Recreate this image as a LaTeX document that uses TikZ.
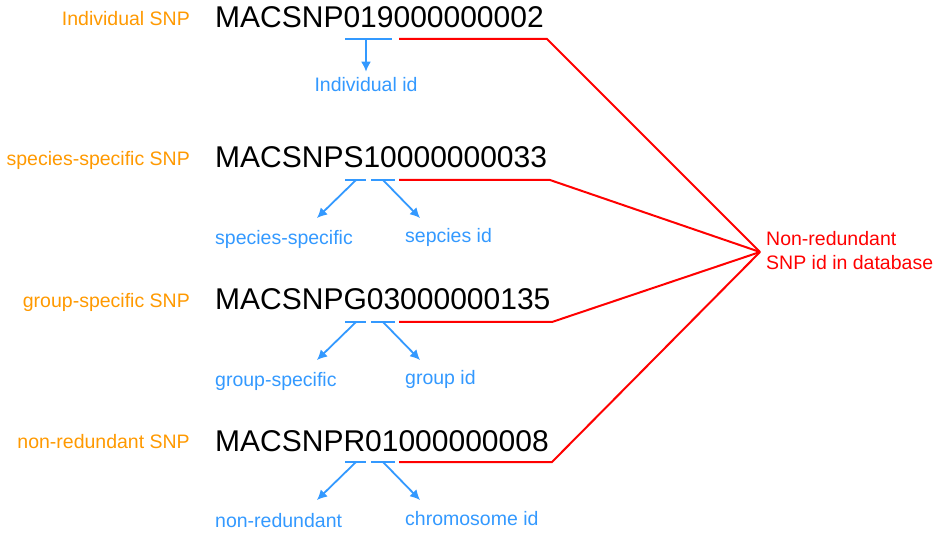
\documentclass[tikz,border=0pt]{standalone}
\usepackage{fontspec}
\setmainfont{Liberation Sans}
\usepackage{tikz}
\usetikzlibrary{arrows.meta,calc,positioning}
\tikzset{>={Latex[length=10pt,width=10pt]}}
\definecolor{kindorange}{RGB}{255,153,0}
\definecolor{partblue}{RGB}{51,153,255}
\definecolor{linkred}{RGB}{255,0,0}
\tikzset{
  snpid/.style={font=\fontsize{30}{36}\selectfont, inner sep=0pt},
  kind/.style={text=kindorange, font=\fontsize{19.5}{24}\selectfont, inner sep=0pt},
  part/.style={text=partblue, font=\fontsize{19.5}{24}\selectfont, inner sep=0pt},
  dbtext/.style={text=linkred, font=\fontsize{19.5}{24}\selectfont, inner sep=0pt, align=left},
  seg/.style={draw=partblue, line width=2pt},
  pointer/.style={->, draw=partblue, line width=1.8pt},
  link/.style={draw=linkred, line width=2pt}
}

\begin{document}
\begin{tikzpicture}[x=1pt,y=-1pt]
\useasboundingbox (0,0) rectangle (940,534);

% identifiers and their kinds
\node[snpid, anchor=base west] (id1) at (215,28) {MACSNP019000000002};
\node[snpid, anchor=base west] (id2) at (215,168) {MACSNPS10000000033};
\node[snpid, anchor=base west] (id3) at (215,310) {MACSNPG03000000135};
\node[snpid, anchor=base west] (id4) at (215,451) {MACSNPR01000000008};

\node[kind, anchor=base east] (k1) at (190,26) {Individual SNP};
\node[kind, anchor=base east] (k2) at (190,166) {species-specific SNP};
\node[kind, anchor=base east] (k3) at (190,308) {group-specific SNP};
\node[kind, anchor=base east] (k4) at (190,449) {non-redundant SNP};

% individual SNP: one field
\draw[seg] (345,39) -- (392,39);
\coordinate (s1) at (366,39);
\node[part, anchor=base] (p1) at (366,92) {Individual id};
\draw[pointer, shorten >=6pt] (s1) -- (p1);

% the other kinds: two fields
\foreach \n/\y/\l/\r in {2/180/species-specific/sepcies id,
                         3/322/group-specific/group id,
                         4/462/non-redundant/chromosome id}
{
  \draw[seg] (345,\y) -- (366,\y);
  \draw[seg] (371,\y) -- (395,\y);
  \coordinate (sa\n) at (356,\y);
  \coordinate (sb\n) at (383,\y);
  \coordinate (ta\n) at (317,\y+38);
  \coordinate (tb\n) at (420,\y+38);
  \node[part, anchor=base west] (pa\n) at (215,\y+65) {\l};
  \node[part, anchor=base west] (pb\n) at (405,\y+63) {\r};
  \draw[pointer] (sa\n) -- (ta\n);
  \draw[pointer] (sb\n) -- (tb\n);
}

% database id
\coordinate (hub) at (760,252);
\node[dbtext, anchor=north west] (db) at (766,231) {Non-redundant\\SNP id in database};
\foreach \n/\y/\e in {1/39/547, 2/180/550, 3/322/552, 4/462/552}
{
  \coordinate (r\n) at (399,\y);
  \coordinate (b\n) at (\e,\y);
  \draw[link] (r\n) -- (b\n) -- (hub);
}
\end{tikzpicture}
\end{document}
